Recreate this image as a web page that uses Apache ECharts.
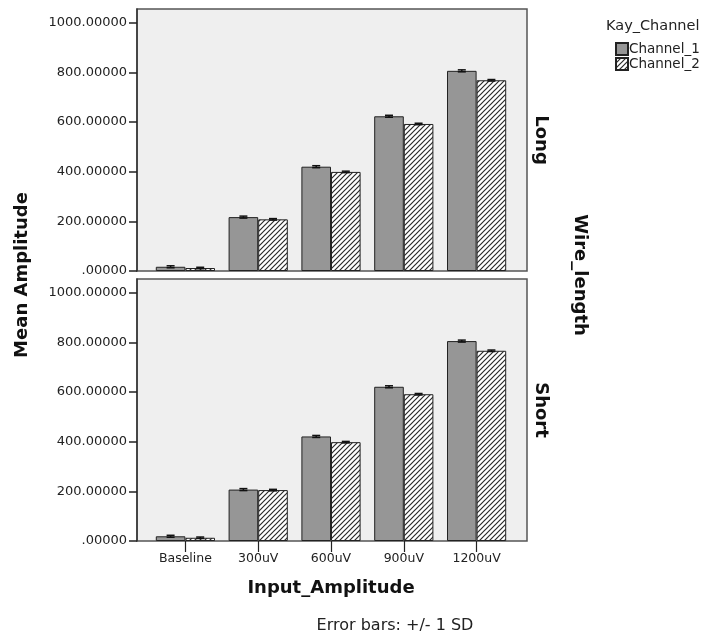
<!DOCTYPE html>
<html><head><meta charset="utf-8">
<script src="https://cdn.jsdelivr.net/npm/echarts@6/dist/echarts.min.js"></script>
<style>html,body{margin:0;padding:0;background:#fff}#c{width:709px;height:638px}</style>
</head><body><div id="c"></div>
<script>
// ---- data ----
const categories = ['Baseline', '300uV', '600uV', '900uV', '1200uV'];
const seriesNames = ['Channel_1', 'Channel_2'];
const panelNames = ['Long', 'Short'];
const longCh1 = [17, 217, 420, 623, 806];
const longCh2 = [12, 208, 399, 592, 768];
const shortCh1 = [19, 207, 421, 621, 805];
const shortCh2 = [13, 205, 398, 591, 766];
const longSd1 = [4, 4, 4, 4, 4];
const longSd2 = [3, 3, 3, 3, 3];
const shortSd1 = [4, 4, 4, 4, 4];
const shortSd2 = [3, 3, 3, 3, 3];
const yTicks = [0, 200, 400, 600, 800, 1000];

// ---- styles ----
const YMAX = 1055;
const BAR_W = 29.6;
const FONT = 'DejaVu Sans';

const T = 5;
const hatch = document.createElement('canvas');
hatch.width = T; hatch.height = T;
const g = hatch.getContext('2d');
g.fillStyle = '#ffffff'; g.fillRect(0, 0, T, T);
g.strokeStyle = '#2a2a2a'; g.lineWidth = 1.2;
g.beginPath();
g.moveTo(0, T); g.lineTo(T, 0);
g.moveTo(-1, 1); g.lineTo(1, -1);
g.moveTo(T - 1, T + 1); g.lineTo(T + 1, T - 1);
g.stroke();

const panels = [
  { name: panelNames[0], top: 9, ch1: longCh1, ch2: longCh2, sd1: longSd1, sd2: longSd2, labels: false },
  { name: panelNames[1], top: 279, ch1: shortCh1, ch2: shortCh2, sd1: shortSd1, sd2: shortSd2, labels: true }
];

function errRender(offset) {
  return function (params, api) {
    const x = api.value(0), m = api.value(1), sd = api.value(2);
    const t = api.coord([x, m + sd]);
    const b = api.coord([x, m - sd]);
    const cx = t[0] + offset, hw = 4;
    const st = { stroke: '#111', lineWidth: 1.5 };
    return { type: 'group', children: [
      { type: 'line', shape: { x1: cx, y1: t[1], x2: cx, y2: b[1] }, style: st },
      { type: 'line', shape: { x1: cx - hw, y1: t[1], x2: cx + hw, y2: t[1] }, style: st },
      { type: 'line', shape: { x1: cx - hw, y1: b[1], x2: cx + hw, y2: b[1] }, style: st }
    ]};
  };
}

const grid = [], xAxis = [], yAxis = [], series = [];
panels.forEach((p, k) => {
  const fi = grid.length;
  grid.push({ left: 137, top: p.top, width: 390, height: 262, show: true,
    backgroundColor: '#efefef', borderColor: '#555', borderWidth: 1.5 });
  xAxis.push({ gridIndex: fi, type: 'category', data: [''], show: false });
  yAxis.push({ gridIndex: fi, type: 'value', min: 0, max: YMAX,
    axisLine: { show: true, lineStyle: { color: '#333', width: 1.5 } },
    axisTick: { show: true, length: 8, customValues: yTicks, lineStyle: { color: '#222', width: 1.5 } },
    axisLabel: { customValues: yTicks, margin: 10, fontSize: 13, fontFamily: FONT, color: '#222',
      formatter: v => v === 0 ? '.00000' : v.toFixed(5) },
    splitLine: { show: false } });
  const di = grid.length;
  grid.push({ left: 149, top: p.top, width: 364, height: 262 });
  xAxis.push({ gridIndex: di, type: 'category', data: categories,
    axisLine: { show: false },
    axisTick: { show: p.labels, alignWithLabel: true, length: 11, lineStyle: { color: '#222', width: 1.2 } },
    axisLabel: { show: p.labels, margin: 11, fontSize: 12.5, fontFamily: FONT, color: '#222' } });
  yAxis.push({ gridIndex: di, type: 'value', min: 0, max: YMAX, show: false, splitLine: { show: false } });
  series.push({ name: seriesNames[0], type: 'bar', xAxisIndex: di, yAxisIndex: di,
    barWidth: BAR_W, barGap: '0%', data: p.ch1,
    itemStyle: { color: '#969696', borderColor: '#222', borderWidth: 1 } });
  series.push({ name: seriesNames[1], type: 'bar', xAxisIndex: di, yAxisIndex: di,
    barWidth: BAR_W, barGap: '0%', data: p.ch2,
    itemStyle: { color: { image: hatch, repeat: 'repeat' }, borderColor: '#222', borderWidth: 1 } });
  series.push({ type: 'custom', xAxisIndex: di, yAxisIndex: di, z: 5,
    renderItem: errRender(-BAR_W / 2), data: categories.map((c, i) => [i, p.ch1[i], p.sd1[i]]) });
  series.push({ type: 'custom', xAxisIndex: di, yAxisIndex: di, z: 5,
    renderItem: errRender(BAR_W / 2), data: categories.map((c, i) => [i, p.ch2[i], p.sd2[i]]) });
});

const bold = { fontSize: 18, fontWeight: 'bold', fontFamily: FONT, fill: '#111', textAlign: 'center', textVerticalAlign: 'middle' };
const graphic = [
  { type: 'text', x: 22, y: 275, rotation: Math.PI / 2, style: Object.assign({ text: 'Mean Amplitude' }, bold) },
  { type: 'text', x: 580, y: 275, rotation: -Math.PI / 2, style: Object.assign({ text: 'Wire_length' }, bold) },
  { type: 'text', x: 541, y: 140, rotation: -Math.PI / 2, style: Object.assign({ text: panelNames[0] }, bold) },
  { type: 'text', x: 541, y: 410, rotation: -Math.PI / 2, style: Object.assign({ text: panelNames[1] }, bold) },
  { type: 'text', x: 331, y: 588, style: Object.assign({ text: 'Input_Amplitude' }, bold) },
  { type: 'text', x: 395, y: 626, style: { text: 'Error bars: +/- 1 SD', fontSize: 16, fontFamily: FONT, fill: '#222', textAlign: 'center', textVerticalAlign: 'middle' } },
  { type: 'text', x: 606, y: 26, style: { text: 'Kay_Channel', fontSize: 14.5, fontFamily: FONT, fill: '#222', textAlign: 'left', textVerticalAlign: 'middle' } }
];

const chart = echarts.init(document.getElementById('c'), null, { renderer: 'canvas' });
chart.setOption({
  animation: false,
  backgroundColor: '#fff',
  grid, xAxis, yAxis, series, graphic,
  legend: { data: seriesNames, left: 615, top: 42, orient: 'vertical', icon: 'rect',
    itemWidth: 12, itemHeight: 12, itemGap: 1, padding: 0,
    textStyle: { fontSize: 13.5, fontFamily: FONT, color: '#222', padding: [0, 0, 0, -4] } }
});
</script></body></html>
